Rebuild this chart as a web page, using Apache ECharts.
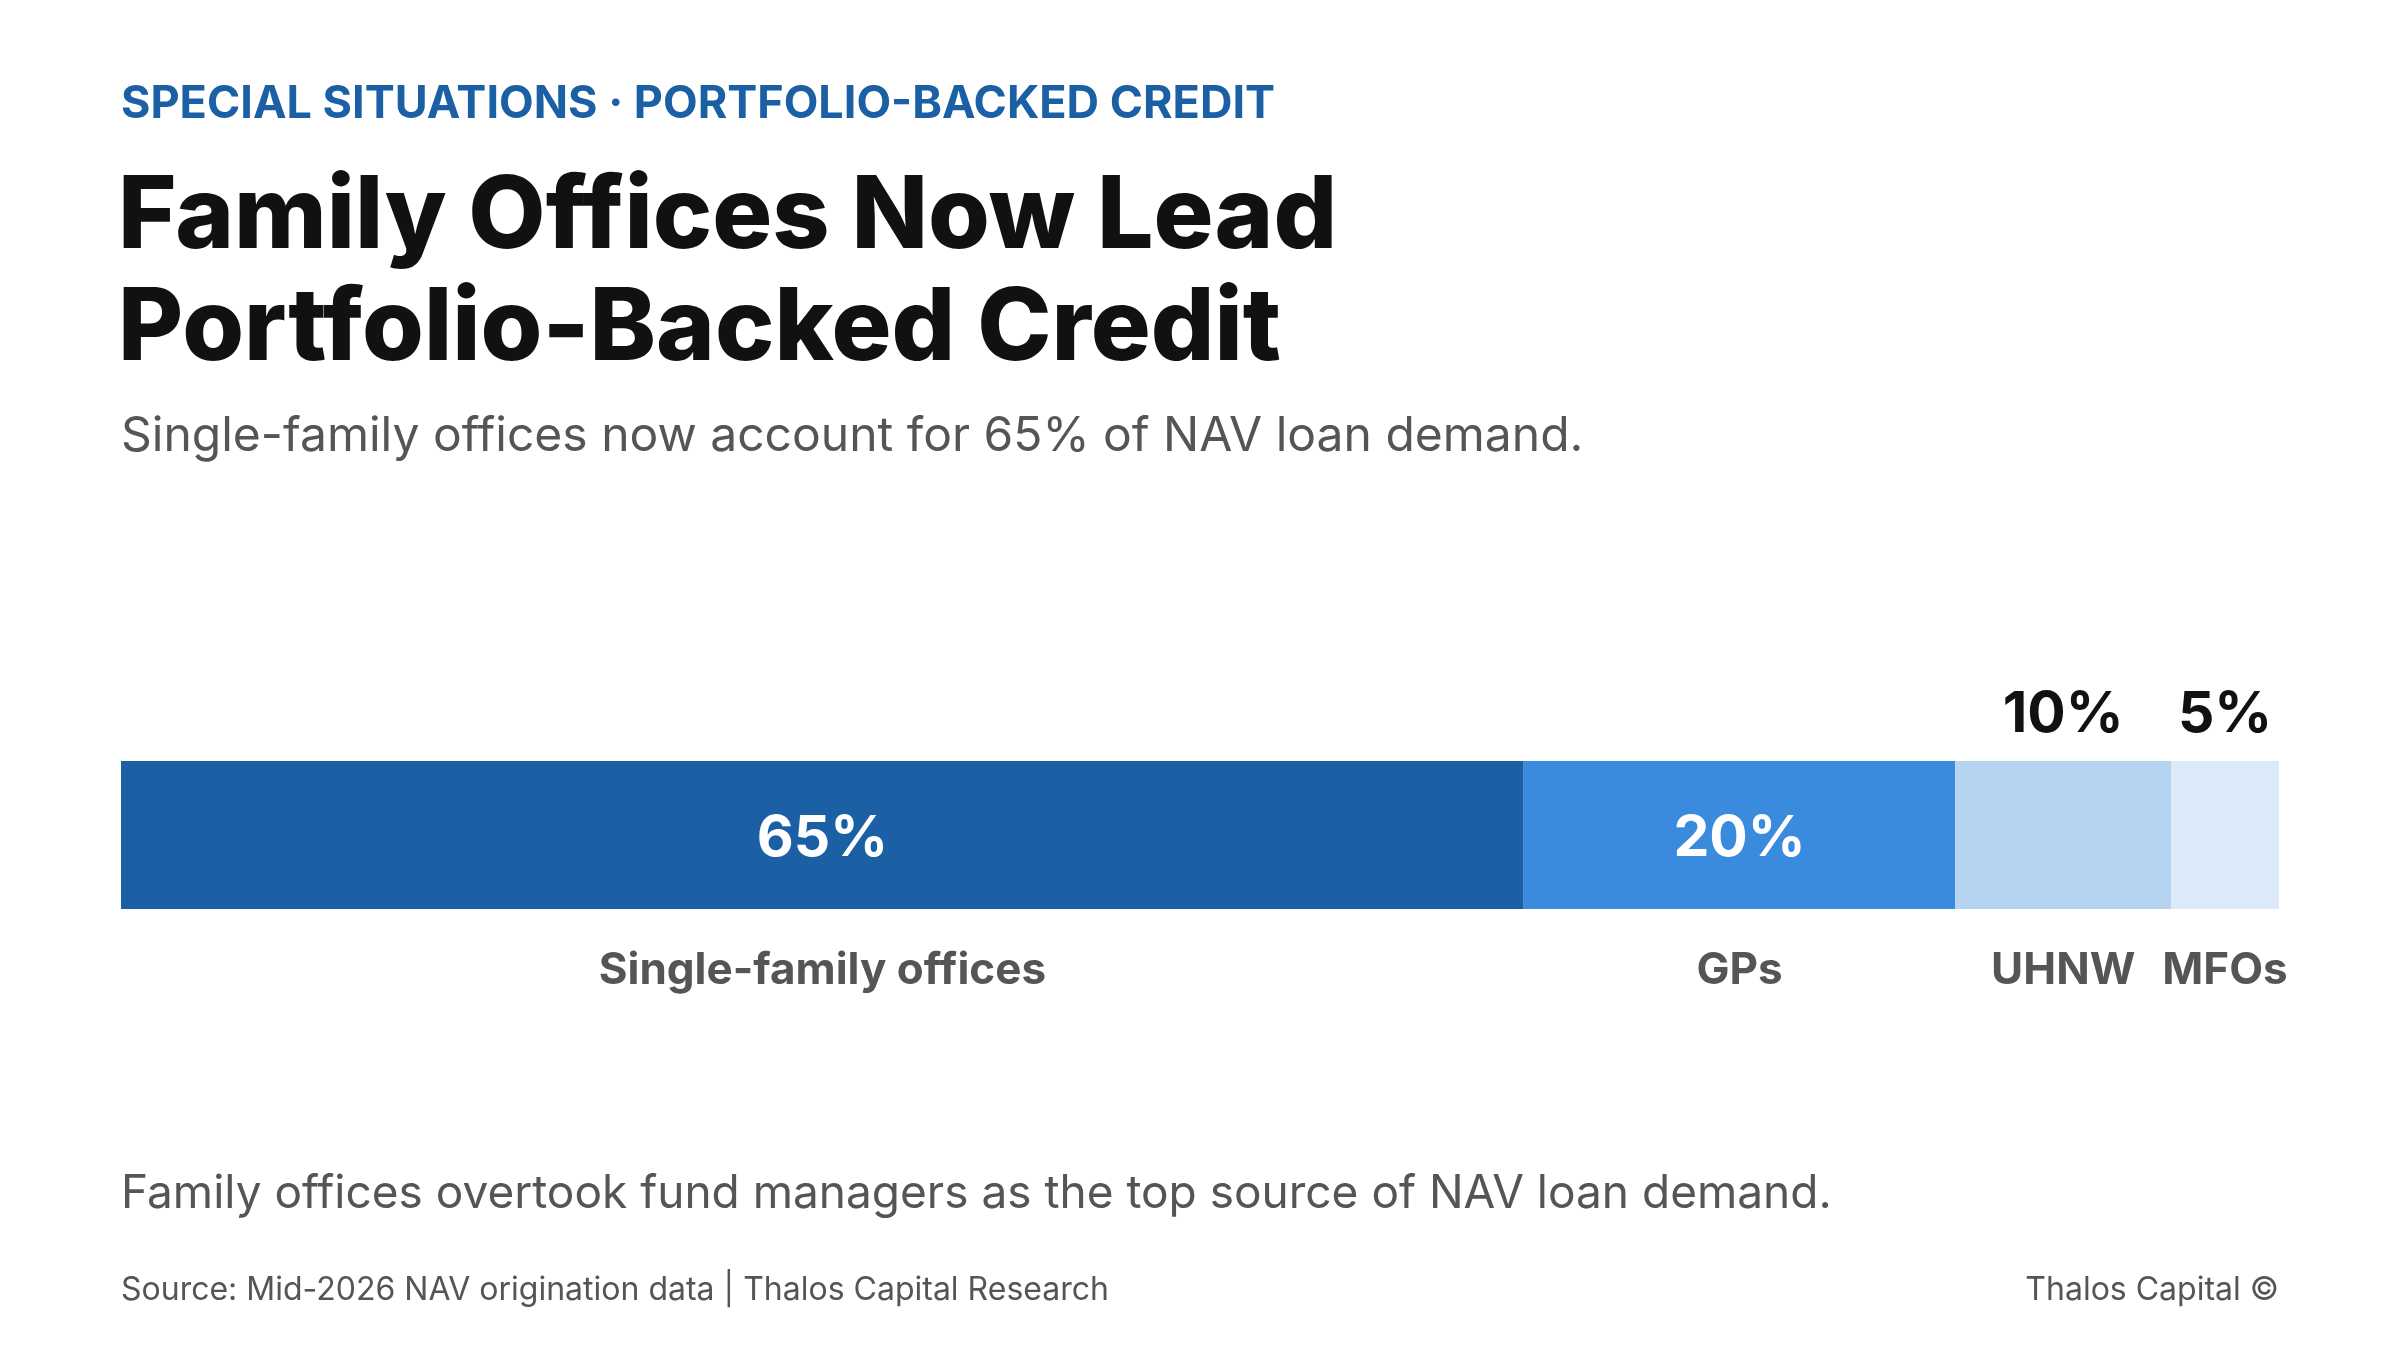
<!DOCTYPE html>
<html><head><meta charset="utf-8">
<script src="https://cdn.jsdelivr.net/npm/echarts@6/dist/echarts.min.js"></script>
<style>html,body{margin:0;padding:0;background:#fff}#c{width:2400px;height:1350px}</style>
</head><body><div id="c"></div>
<script>
const categories = ['Single-family offices', 'GPs', 'UHNW', 'MFOs'];
const shares = [65, 20, 10, 5];
const rowLabel = ['NAV loan demand'];
const kicker = 'SPECIAL SITUATIONS · PORTFOLIO-BACKED CREDIT';
const titleLines = ['Family Offices Now Lead', 'Portfolio-Backed Credit'];
const subtitle = 'Single-family offices now account for 65% of NAV loan demand.';
const note = 'Family offices overtook fund managers as the top source of NAV loan demand.';
const source = 'Source: Mid-2026 NAV origination data | Thalos Capital Research';
const brand = 'Thalos Capital ©';

const colors = ['#1b5fa5', '#3a8bdd', '#b6d4f1', '#dbe9f8'];
const FONT = 'Inter, "Noto Sans", sans-serif';

const chart = echarts.init(document.getElementById('c'), null, {renderer: 'canvas'});

const barSeries = categories.map((name, i) => ({
  name: name,
  type: 'bar',
  stack: 'share',
  xAxisIndex: 0, yAxisIndex: 0,
  barWidth: 148,
  data: [shares[i]],
  itemStyle: {color: colors[i]},
  silent: true,
  label: {
    show: true,
    position: shares[i] >= 20 ? 'inside' : 'top',
    distance: 18,
    offset: shares[i] >= 20 ? [0, 4] : [0, 0],
    formatter: p => p.value + '%',
    fontFamily: FONT,
    fontWeight: 700,
    fontSize: 57,
    color: shares[i] >= 20 ? '#ffffff' : '#111111'
  }
}));

const nameSeries = categories.map((name, i) => ({
  name: name + ' label',
  type: 'bar',
  stack: 'names',
  xAxisIndex: 1, yAxisIndex: 1,
  barWidth: 60,
  data: [shares[i]],
  itemStyle: {color: 'transparent'},
  silent: true,
  label: {
    show: true,
    position: 'inside',
    formatter: () => name,
    fontFamily: FONT,
    fontWeight: 700,
    fontSize: 44,
    color: '#555555'
  }
}));

chart.setOption({
  backgroundColor: '#ffffff',
  animation: false,
  grid: [
    {left: 121, right: 121, top: 761, height: 148},
    {left: 121, right: 121, top: 941, height: 60}
  ],
  xAxis: [
    {type: 'value', min: 0, max: 100, show: false, gridIndex: 0},
    {type: 'value', min: 0, max: 100, show: false, gridIndex: 1}
  ],
  yAxis: [
    {type: 'category', data: rowLabel, show: false, gridIndex: 0},
    {type: 'category', data: rowLabel, show: false, gridIndex: 1}
  ],
  series: barSeries.concat(nameSeries),
  graphic: [
    {type: 'text', left: 121, top: 82, style: {text: kicker, fontFamily: FONT, fontWeight: 700, fontSize: 45, fill: '#1b5fa5'}},
    {type: 'text', left: 118, top: 168, style: {text: titleLines[0], fontFamily: FONT, fontWeight: 800, fontSize: 100, fill: '#111111'}},
    {type: 'text', left: 118, top: 280, style: {text: titleLines[1], fontFamily: FONT, fontWeight: 800, fontSize: 100, fill: '#111111'}},
    {type: 'text', left: 121, top: 413, style: {text: subtitle, fontFamily: FONT, fontWeight: 400, fontSize: 48, fill: '#555555'}},
    {type: 'text', left: 121, top: 1171, style: {text: note, fontFamily: FONT, fontWeight: 400, fontSize: 46, fill: '#555555'}},
    {type: 'text', left: 121, top: 1274, style: {text: source, fontFamily: FONT, fontWeight: 400, fontSize: 32, fill: '#555555'}},
    {type: 'text', right: 121, top: 1274, style: {text: brand, fontFamily: FONT, fontWeight: 400, fontSize: 32, fill: '#555555'}}
  ]
});
</script></body></html>
